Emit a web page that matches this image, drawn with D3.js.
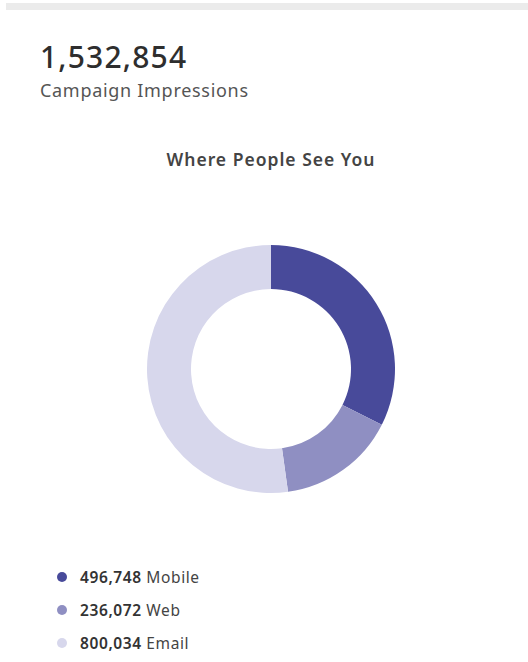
<!doctype html>
<html lang="en">
<head>
<meta charset="utf-8">
<title>Where People See You</title>
<style>
body { margin: 0; background: #fff; font-family: "Noto Sans", "Open Sans", sans-serif; }
</style>
</head>
<body>
<svg id="chart" width="528" height="662"></svg>
<script src="https://cdnjs.cloudflare.com/ajax/libs/d3/7.8.5/d3.min.js"></script>
<script>
var categories = ["Mobile", "Web", "Email"];
var values = [496748, 236072, 800034];
var colors = ["#484a9a", "#8f8fc2", "#d7d7ec"];
var totalLabel = "Campaign Impressions";
var chartTitle = "Where People See You";

var svg = d3.select("#chart");
var fmt = d3.format(",");

// top strip
svg.append("rect")
    .attr("x", 6).attr("y", 3)
    .attr("width", 522).attr("height", 7)
    .style("fill", "#ebebeb");

svg.append("text")
    .attr("x", 40).attr("y", 68)
    .style("font-size", "30px")
    .style("font-weight", "500")
    .style("letter-spacing", "1.2px")
    .style("fill", "#2e2e2e")
    .text(fmt(d3.sum(values)));

svg.append("text")
    .attr("x", 40).attr("y", 97)
    .style("font-size", "18px")
    .style("letter-spacing", "0.7px")
    .style("fill", "#555")
    .text(totalLabel);

svg.append("text")
    .attr("x", 271).attr("y", 166)
    .attr("text-anchor", "middle")
    .style("font-size", "17.5px")
    .style("font-weight", "600")
    .style("letter-spacing", "1px")
    .style("fill", "#444")
    .text(chartTitle);

var data = categories.map(function(c, i) { return {name: c, value: values[i]}; });
var color = d3.scaleOrdinal().domain(categories).range(colors);

var pie = d3.pie().sort(null).value(function(d) { return d.value; });
var arc = d3.arc().innerRadius(80).outerRadius(124);

var g = svg.append("g").attr("transform", "translate(271,369)");
g.selectAll("path")
    .data(pie(data))
    .enter().append("path")
    .attr("d", arc)
    .style("fill", function(d) { return color(d.data.name); });

// legend
var legend = svg.append("g").attr("transform", "translate(62,577)");
var item = legend.selectAll("g")
    .data(data)
    .enter().append("g")
    .attr("transform", function(d, i) { return "translate(0," + (i * 33) + ")"; });

item.append("circle")
    .attr("r", 5)
    .style("fill", function(d) { return color(d.name); });

var label = item.append("text")
    .attr("x", 18).attr("y", 5.5)
    .style("font-size", "15.5px")
    .style("letter-spacing", "0.6px")
    .style("fill", "#444");
label.append("tspan").style("font-weight", "600").style("fill", "#333").text(function(d) { return fmt(d.value); });
label.append("tspan").text(function(d) { return " " + d.name; });
</script>
</body>
</html>
